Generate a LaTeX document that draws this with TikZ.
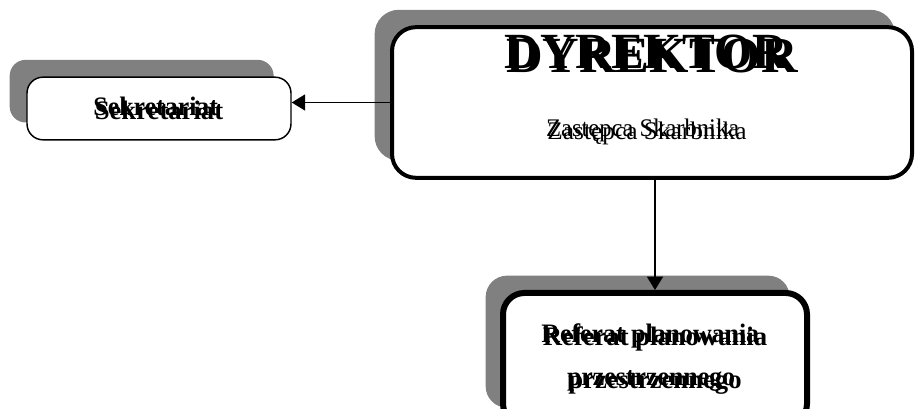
\documentclass[tikz,border=0pt]{standalone}
\usepackage{fontspec}
\setmainfont{Liberation Serif}
\usepackage{graphicx}
\usetikzlibrary{positioning, arrows.meta, shadows}

\definecolor{shadowgray}{gray}{0.5}
% text printed twice, the second copy a little higher and narrower
\newcommand{\ghosted}[1]{\leavevmode\rlap{\raisebox{2.5pt}{\kern-1pt\scalebox{0.97}[1]{#1}}}#1}

\tikzset{
    unitbox/.style={draw=black, fill=white, rounded corners=12pt, inner sep=0pt,
        drop shadow={shadow xshift=-13pt, shadow yshift=13pt, fill=shadowgray, opacity=1}},
    conn/.style={line width=1pt, -{Triangle[length=10pt,width=12pt]}},
}

\begin{document}
\begin{tikzpicture}[x=0.75pt, y=-0.75pt]
    \useasboundingbox (0,0) rectangle (917,409);

    % Sekretariat
    \node[unitbox, line width=1.1pt, minimum width=198pt, minimum height=47pt,
          font=\bfseries\fontsize{20}{24}\selectfont] (sekretariat) at (159,108.5)
          {\raisebox{-8pt}{\ghosted{Sekretariat}}};

    % Dyrektor
    \node[unitbox, line width=3pt, rounded corners=18pt, minimum width=390pt,
          minimum height=113pt] (dyrektor) at (652,102.5) {};
    \node[font=\bfseries\fontsize{38}{44}\selectfont] (dyrektor-title) at (652,54)
          {\ghosted{DYREKTOR}};
    \node[font=\fontsize{19}{23}\selectfont] (dyrektor-sub) at (647,132)
          {\ghosted{Zastępca Skarbnika}};

    % Referat
    \node[unitbox, line width=4.5pt, rounded corners=16pt, minimum width=228pt,
          minimum height=99pt, align=center,
          font=\bfseries\fontsize{20}{32}\selectfont] (referat) at (655,359)
          {\raisebox{-3pt}{\ghosted{Referat planowania}}\\\raisebox{-3pt}{\ghosted{przestrzennego}}};

    % connectors
    \draw[conn] (dyrektor.west) -- (dyrektor.west -| sekretariat.east);
    \draw[conn] (dyrektor.south -| referat.north) -- (referat.north);
\end{tikzpicture}
\end{document}
